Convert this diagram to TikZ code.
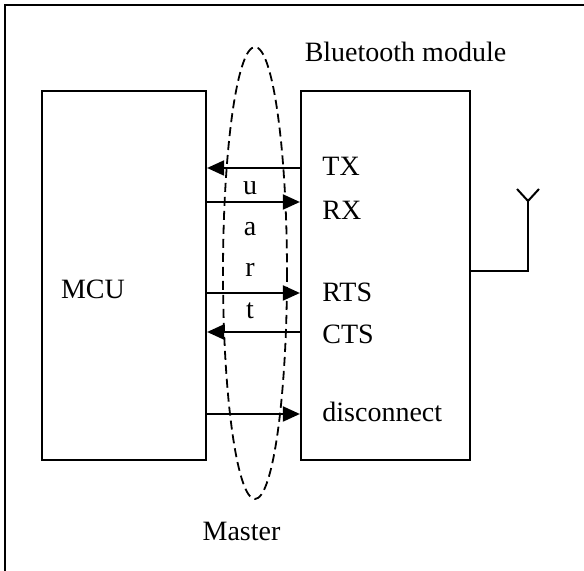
\documentclass[tikz,border=0pt]{standalone}
\usepackage{fontspec}
\setmainfont{Liberation Serif}
\usetikzlibrary{arrows.meta}
\tikzstyle{block}=[rectangle, draw, line width=1.1pt, inner sep=0pt]
\tikzstyle{lbl}=[inner sep=0pt, font=\fontsize{14pt}{16pt}\selectfont]
\tikzstyle{pin}=[lbl, anchor=west]
\tikzstyle{edge}=[line width=1pt, -{Triangle[length=8.5pt,width=7.5pt]}]
\tikzstyle{bus}=[line width=0.9pt, dash pattern=on 4.5pt off 2.5pt]

\begin{document}
\begin{tikzpicture}[x=0.5pt,y=-0.5pt]
				\useasboundingbox (0,0) rectangle (584,571);
				%The frame
				\draw[line width=1.2pt] (5,571) -- (5,5) -- (584,5);

				%The two blocks
				\draw (124,275.5) node[block, minimum width=82pt, minimum height=184.5pt] (mcu) {};
				\draw (385.5,275.5) node[block, minimum width=84.5pt, minimum height=184.5pt] (bt) {};
				\draw (93,289) node[lbl] (mculbl) {MCU};
				\draw (405.5,52) node[lbl] (btlbl) {Bluetooth module};

				%The pins
				\draw (322,166) node[pin] (tx) {TX};
				\draw (322,210) node[pin] (rx) {RX};
				\draw (322,292) node[pin] (rts) {RTS};
				\draw (322,334) node[pin] (cts) {CTS};
				\draw (322,412) node[pin] (disc) {disconnect};

				\coordinate (ytx) at (0,168);
				\coordinate (yrx) at (0,202);
				\coordinate (yrts) at (0,293);
				\coordinate (ycts) at (0,332);
				\coordinate (ydisc) at (0,414);

				\draw[edge] (bt.west |- ytx) -- (mcu.east |- ytx);
				\draw[edge] (mcu.east |- yrx) -- (bt.west |- yrx);
				\draw[edge] (mcu.east |- yrts) -- (bt.west |- yrts);
				\draw[edge] (bt.west |- ycts) -- (mcu.east |- ycts);
				\draw[edge] (mcu.east |- ydisc) -- (bt.west |- ydisc);

				%The uart bus
				\draw[bus] (255,273) ellipse [x radius=32, y radius=226];
				\draw (250,188) node[lbl] (u) {u};
				\draw (250,229) node[lbl] (a) {a};
				\draw (250,270) node[lbl] (r) {r};
				\draw (250,311) node[lbl] (t) {t};
				\draw (241.5,531) node[lbl] (master) {Master};

				%The antenna
				\coordinate (ant) at (528,201);
				\coordinate (antl) at (517,189);
				\coordinate (antr) at (539,189);
				\draw[line width=1pt] (bt.east |- 0,271) -| (ant);
				\draw[line width=1pt] (antl) -- (ant) -- (antr);
			\end{tikzpicture}
\end{document}
